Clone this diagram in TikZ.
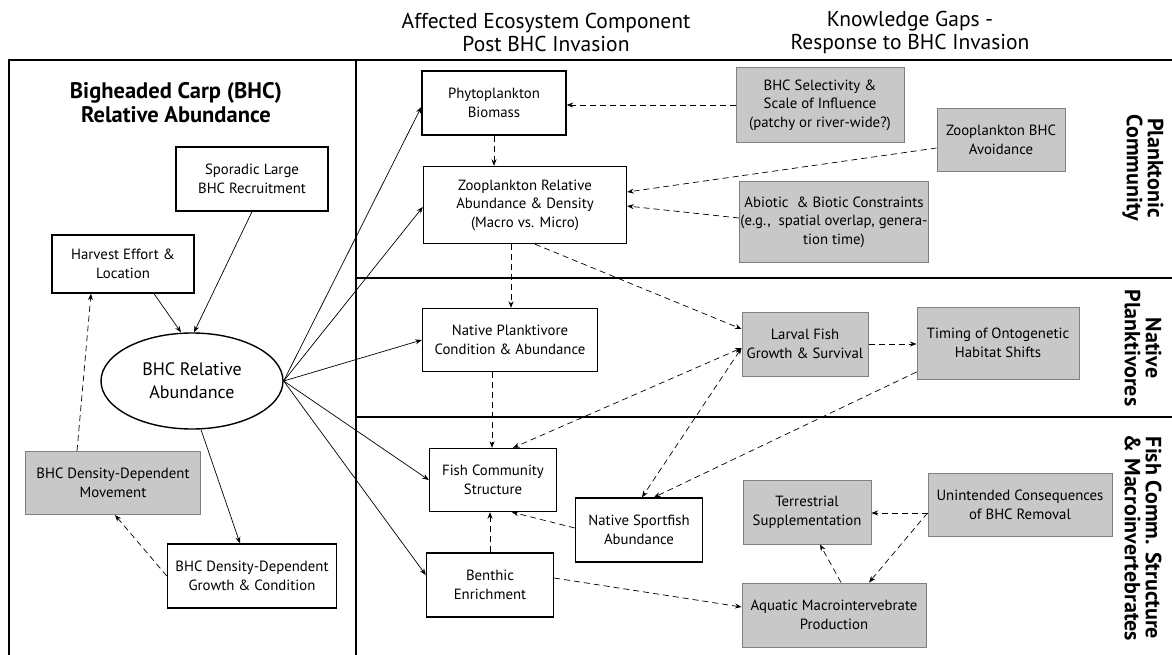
\documentclass[tikz,border=0pt]{standalone}
\usepackage{fontspec}
\setmainfont{PT Sans}
\usetikzlibrary{shapes.geometric,arrows.meta}
\definecolor{gfill}{HTML}{C8C8C8}
\definecolor{gline}{HTML}{808080}
\tikzset{
  wbox/.style={draw=black, line width=1.4pt, fill=white, align=center, inner sep=1pt,
    font=\fontsize{14.8}{18.5}\selectfont},
  gbox/.style={draw=gline, line width=1pt, fill=gfill, align=center, inner sep=1pt,
    font=\fontsize{14.8}{18.5}\selectfont},
  arr/.style={-{Stealth[length=6.5pt,width=5pt]}, line width=0.7pt},
  darr/.style={arr, dash pattern=on 6pt off 4pt},
  dboth/.style={{Stealth[length=6.5pt,width=5pt]}-{Stealth[length=6.5pt,width=5pt]}, line width=0.7pt, dash pattern=on 6pt off 4pt},
  frame/.style={line width=1.8pt},
  sidelab/.style={rotate=-90, align=center, font=\fontsize{22}{21}\selectfont\bfseries},
  header/.style={align=center, font=\fontsize{21.5}{23}\selectfont}
}
\begin{document}
\begin{tikzpicture}[x=1pt,y=-1pt]
\useasboundingbox (0,0) rectangle (1172,655);
\fill[white] (0,0) rectangle (1172,655);
% frames
\draw[frame] (9,660) -- (9,60) -- (356,60) -- (356,660);
\draw[frame] (356,60) -- (1175,60);
\draw[frame] (356,278) -- (1175,278);
\draw[frame] (356,417) -- (1175,417);
% headers
\node[header] (h1) at (546,32) {Affected Ecosystem Component\\Post BHC Invasion};
\node[header] (h2) at (910,32) {Knowledge Gaps -\\Response to BHC Invasion};
\node[align=center, font=\fontsize{22.5}{24}\selectfont\bfseries] (title) at (176,103) {Bigheaded Carp (BHC)\\Relative Abundance};
% side labels
\node[sidelab] (s1) at (1143,168) {Planktonic\\Community};
\node[sidelab] (s2) at (1143,348) {Native\\Planktivores};
\node[sidelab] (s3) at (1143,538) {Fish Comm. Structure\\\& Macroinvertebrates};
% left panel nodes
\node[wbox, minimum width=152pt, minimum height=64pt] (spo0) at (252,179) {Sporadic Large\\BHC Recruitment};
\node[wbox, minimum width=142pt, minimum height=58pt] (harv) at (123,264) {Harvest Effort \&\\Location};
\node[wbox, ellipse, inner sep=0pt, minimum width=182pt, minimum height=96pt, font=\fontsize{18}{23}\selectfont] (ell) at (192,381) {BHC Relative\\Abundance};
\node[gbox, minimum width=175pt, minimum height=63pt] (mov) at (113,483) {BHC Density-Dependent\\Movement};
\node[wbox, minimum width=169pt, minimum height=64pt] (gro) at (252,576) {BHC Density-Dependent\\Growth \& Condition};
% middle nodes
\node[wbox, minimum width=144pt, minimum height=64pt] (phy) at (494,103) {Phytoplankton\\Biomass};
\node[wbox, minimum width=203pt, minimum height=77pt] (zoo) at (525,205) {Zooplankton Relative\\Abundance \& Density\\(Macro vs. Micro)};
\node[wbox, minimum width=175pt, minimum height=63pt] (np) at (510,340) {Native Planktivore\\Condition \& Abundance};
\node[wbox, minimum width=127pt, minimum height=63pt] (fc) at (493,480) {Fish Community\\Structure};
\node[wbox, minimum width=127pt, minimum height=64pt] (spf) at (639,530) {Native Sportfish\\Abundance};
\node[wbox, minimum width=127pt, minimum height=64pt] (ben) at (490,585) {Benthic\\Enrichment};
% right nodes
\node[gbox, minimum width=168pt, minimum height=75pt] (sel) at (820,105) {BHC Selectivity \&\\Scale of Influence\\(patchy or river-wide?)};
\node[gbox, minimum width=128pt, minimum height=63pt] (avo) at (1001,140) {Zooplankton BHC\\Avoidance};
\node[gbox, minimum width=188pt, minimum height=81pt] (abi) at (834,222) {Abiotic\ \ \& Biotic Constraints\\(e.g.,\ \ spatial overlap, genera-\\tion time)};
\node[gbox, minimum width=126pt, minimum height=64pt] (lar) at (805,344) {Larval Fish\\Growth \& Survival};
\node[gbox, minimum width=162pt, minimum height=72pt] (tim) at (998,343) {Timing of Ontogenetic\\Habitat Shifts};
\node[gbox, minimum width=128pt, minimum height=64pt] (ter) at (807,512) {Terrestrial\\Supplementation};
\node[gbox, minimum width=184pt, minimum height=63pt] (uni) at (1020,505) {Unintended Consequences\\of BHC Removal};
\node[gbox, minimum width=184pt, minimum height=64pt] (aqu) at (834,615) {Aquatic Macrointervebrate\\Production};
% left panel connectors
\draw[arr] ([xshift=31pt]harv.south) -- ([xshift=-11pt]ell.north);
\draw[arr] (spo0.south) -- ([xshift=2pt]ell.north);
\draw[darr] ([xshift=-36pt]mov.north) -- ([xshift=-32pt]harv.south);
\draw[arr] ([xshift=9pt]ell.south) -- ([xshift=-12pt]gro.north);
\draw[darr] (gro.west) -- ([xshift=2pt]mov.south);
% ellipse to middle
\draw[arr] (ell.east) -- ([yshift=-4pt]phy.west);
\draw[arr] (ell.east) -- ([yshift=-2pt]zoo.west);
\draw[arr] (ell.east) -- (np.west);
\draw[arr] (ell.east) -- (fc.west);
\draw[arr] (ell.east) -- ([yshift=10pt]ben.west);
% middle connectors
\draw[darr] (phy.south) -- ([xshift=-31pt]zoo.north);
\draw[darr] (sel.west) -- (phy.east |- sel.west);
\draw[darr] ([yshift=-8pt]avo.west) -- ([yshift=13pt]zoo.east);
\draw[darr] ([yshift=4pt]abi.west) -- ([yshift=-1pt]zoo.east);
\draw[darr] ([xshift=-14pt]zoo.south) -- ([xshift=1pt]np.north);
\draw[darr] ([xshift=10pt]zoo.south) -- ([yshift=15pt]lar.west);
\draw[darr] ([xshift=-18pt]np.south) -- ([xshift=-1pt]fc.north);
\draw[dboth] ([yshift=-4pt]lar.west) -- ([xshift=20pt]fc.north);
\draw[dboth] ([yshift=-4pt]lar.west) -- ([xshift=3pt]spf.north);
\draw[darr] ([yshift=-29pt]tim.west) -- ([xshift=15pt]spf.north);
\draw[darr] (lar.east) -- (tim.west |- lar.east);
\draw[darr] ([yshift=2pt]spf.west) -- ([xshift=19pt]fc.south);
\draw[darr] (ben.north) -- ([xshift=-3pt]fc.south);
\draw[darr] ([yshift=7pt]ben.east) -- ([yshift=8pt]aqu.west);
\draw[darr] ([yshift=-8pt]uni.west) -- ([yshift=-1pt]ter.east);
\draw[darr] ([yshift=-8pt]uni.west) -- ([xshift=35pt]aqu.north);
\draw[darr] ([xshift=7pt]aqu.north) -- ([xshift=13pt]ter.south);
\end{tikzpicture}
\end{document}
